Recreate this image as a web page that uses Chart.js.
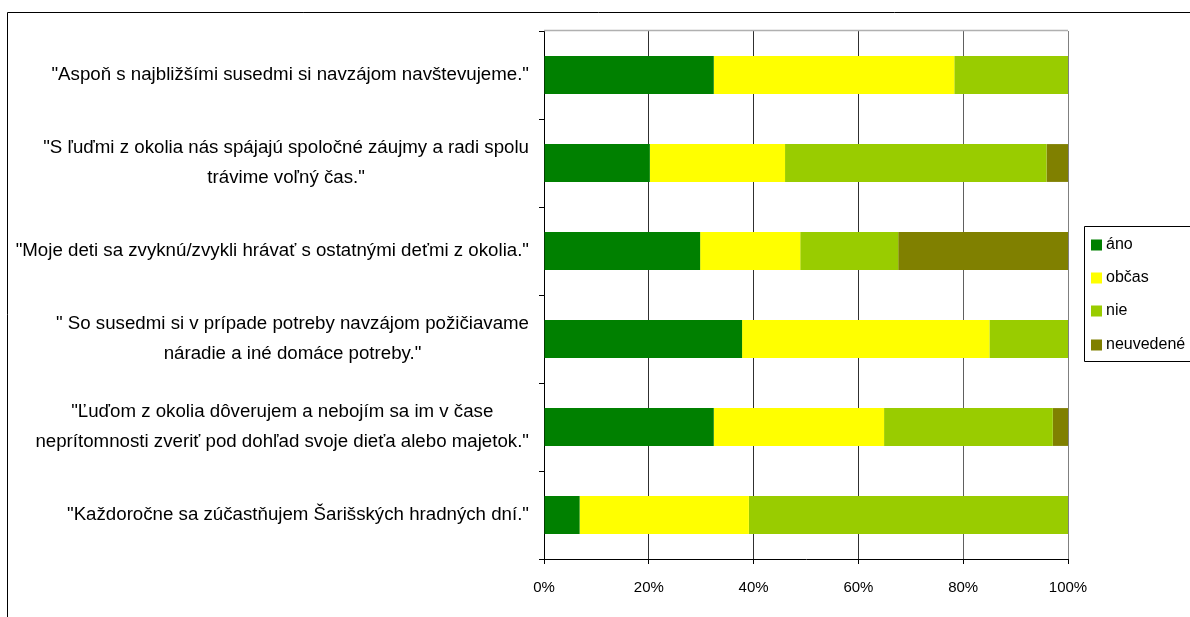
<!DOCTYPE html>
<html>
<head>
<meta charset="utf-8">
<script src="https://cdn.jsdelivr.net/npm/chart.js@4/dist/chart.umd.min.js"></script>
<style>
  html, body { margin: 0; padding: 0; background: #ffffff; }
  #wrap { width: 1190px; height: 617px; position: relative; }
</style>
</head>
<body>
<div id="wrap"><canvas id="c" width="1190" height="617"></canvas></div>
<script>
// ---- data ----
const categories = [
  '"Aspoň s najbližšími susedmi si navzájom navštevujeme."',
  ['"S ľuďmi z okolia nás spájajú spoločné záujmy a radi spolu', 'trávime voľný čas."'],
  '"Moje deti sa zvyknú/zvykli hrávať s ostatnými deťmi z okolia."',
  ['" So susedmi si v prípade potreby navzájom požičiavame', 'náradie a iné domáce potreby."'],
  ['"Ľuďom z okolia dôverujem a nebojím sa im v čase', 'neprítomnosti zveriť pod dohľad svoje dieťa alebo majetok."'],
  '"Každoročne sa zúčastňujem Šarišských hradných dní."'
];
const seriesNames = ['áno', 'občas', 'nie', 'neuvedené'];
const ano       = [32.4, 20.2, 29.8, 37.8, 32.4, 6.8];
const obcas     = [45.9, 25.8, 19.1, 47.2, 32.5, 32.3];
const nie       = [21.7, 49.9, 18.7, 15.0, 32.2, 60.9];
const neuvedene = [0.0, 4.1, 32.4, 0.0, 2.9, 0.0];
const xTicks = [0, 20, 40, 60, 80, 100];
const colors = ['#008000', '#FFFF00', '#99CC00', '#808000'];

const FONT = '"Liberation Sans", Arial, sans-serif';

const framePlugin = {
  id: 'frame',
  beforeDraw(chart) {
    const ctx = chart.ctx;
    ctx.save();
    ctx.fillStyle = '#ffffff';
    ctx.fillRect(0, 0, chart.width, chart.height);
    ctx.strokeStyle = '#000000';
    ctx.lineWidth = 1;
    ctx.beginPath();
    ctx.moveTo(7.5, chart.height);
    ctx.lineTo(7.5, 12.5);
    ctx.lineTo(chart.width, 12.5);
    ctx.stroke();
    ctx.restore();
  },
  afterDraw(chart) {
    const ctx = chart.ctx;
    const a = chart.chartArea;
    ctx.save();
    // top border of plot area
    ctx.strokeStyle = '#b0b0b0';
    ctx.lineWidth = 1.5;
    ctx.beginPath();
    ctx.moveTo(a.left, a.top - 0.5);
    ctx.lineTo(a.right, a.top - 0.5);
    ctx.stroke();

    // category labels (centered block, right edge near axis)
    const ys = chart.scales.y;
    ctx.fillStyle = '#000000';
    ctx.font = '18.7px ' + FONT;
    ctx.textBaseline = 'middle';
    ctx.textAlign = 'center';
    const rightEdge = 529;
    const lineH = 30;
    chart.data.labels.forEach((lab, i) => {
      const lines = Array.isArray(lab) ? lab : [lab];
      const maxW = Math.max(...lines.map(l => ctx.measureText(l).width));
      const cx = rightEdge - maxW / 2;
      const cy = ys.getPixelForValue(i);
      lines.forEach((l, j) => {
        ctx.fillText(l, cx, cy + (j - (lines.length - 1) / 2) * lineH);
      });
    });

    // legend
    const lx = 1084.5, ly = 226.5, lb = 361.5;
    ctx.strokeStyle = '#000000';
    ctx.lineWidth = 1;
    ctx.beginPath();
    ctx.moveTo(chart.width, ly);
    ctx.lineTo(lx, ly);
    ctx.lineTo(lx, lb);
    ctx.lineTo(chart.width, lb);
    ctx.stroke();
    ctx.font = '16px ' + FONT;
    ctx.textAlign = 'left';
    const itemY = [245, 278, 311, 345];
    chart.data.datasets.forEach((ds, i) => {
      ctx.fillStyle = ds.backgroundColor;
      ctx.fillRect(1091, itemY[i] - 5.5, 11, 11);
      ctx.fillStyle = '#000000';
      ctx.fillText(ds.label, 1106, itemY[i]);
    });
    ctx.restore();
  }
};

const data = {
  labels: categories,
  datasets: [ano, obcas, nie, neuvedene].map((vals, i) => ({
    label: seriesNames[i],
    data: vals,
    backgroundColor: colors[i],
    borderWidth: 0,
    barPercentage: 0.43,
    categoryPercentage: 1.0
  }))
};

new Chart(document.getElementById('c'), {
  type: 'bar',
  data: data,
  plugins: [framePlugin],
  options: {
    responsive: false,
    animation: false,
    indexAxis: 'y',
    layout: { padding: { top: 31, right: 122, bottom: 0, left: 0 } },
    plugins: { legend: { display: false }, tooltip: { enabled: false } },
    scales: {
      x: {
        stacked: true,
        min: 0,
        max: 100,
        afterBuildTicks(scale) { scale.ticks = xTicks.map(v => ({ value: v })); },
        afterFit(scale) { scale.height = 58; },
        ticks: {
          callback: v => v + '%',
          color: '#000000',
          font: { family: FONT, size: 15 },
          padding: 15,
          maxRotation: 0
        },
        grid: {
          color: ctx => (ctx.tick && ctx.tick.value === 100) ? '#808080' : (ctx.tick && ctx.tick.value === 80 ? '#606060' : '#303030'),
          lineWidth: 1,
          tickLength: 5,
          tickColor: '#000000'
        },
        border: { color: '#000000', width: 1 }
      },
      y: {
        stacked: true,
        offset: true,
        afterFit(scale) { scale.width = 544; },
        ticks: { display: false },
        grid: {
          offset: true,
          drawOnChartArea: false,
          tickLength: 5,
          color: '#000000'
        },
        border: { color: '#000000', width: 1 }
      }
    }
  }
});
</script>
</body>
</html>
